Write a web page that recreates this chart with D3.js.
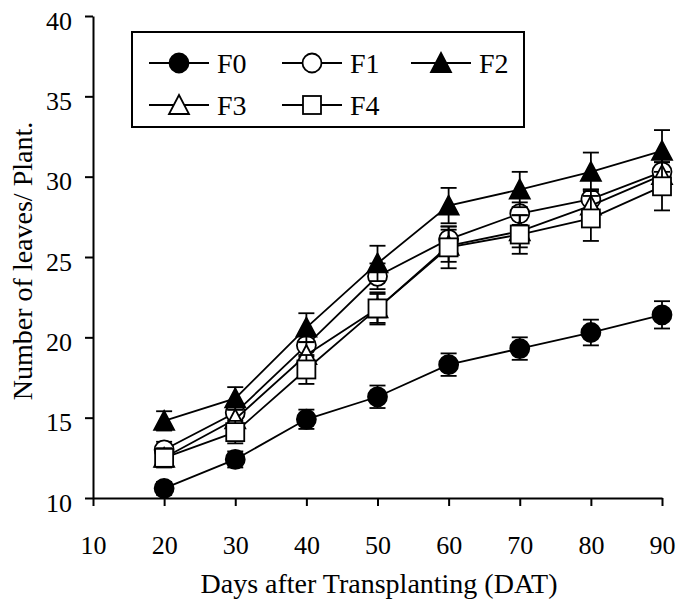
<!DOCTYPE html>
<html>
<head>
<meta charset="utf-8">
<script src="https://cdn.jsdelivr.net/npm/d3@7"></script>
<style>
  body { margin: 0; background: #fff; }
  text { font-family: "Liberation Serif", "Times New Roman", serif; fill: #000; }
</style>
</head>
<body>
<div class="canvas"></div>
<script>
// days after transplanting
const days = [20, 30, 40, 50, 60, 70, 80, 90];

const F0 = [10.6, 12.4, 14.9, 16.3, 18.3, 19.3, 20.3, 21.4];
const F0err = [0.4, 0.5, 0.6, 0.7, 0.7, 0.7, 0.8, 0.85];
const F1 = [13.0, 15.3, 19.5, 23.8, 26.1, 27.7, 28.6, 30.3];
const F1err = [0.5, 0.6, 0.7, 0.8, 0.8, 0.7, 0.6, 0.6];
const F2 = [14.8, 16.2, 20.6, 24.6, 28.2, 29.2, 30.3, 31.6];
const F2err = [0.6, 0.7, 0.9, 1.1, 1.1, 1.1, 1.2, 1.3];
const F3 = [12.5, 14.9, 18.9, 21.8, 25.7, 26.6, 28.2, 30.1];
const F3err = [0.5, 0.6, 0.8, 0.9, 1.0, 1.0, 1.0, 1.0];
const F4 = [12.5, 14.1, 18.0, 21.8, 25.6, 26.4, 27.4, 29.4];
const F4err = [0.6, 0.7, 0.9, 1.0, 1.3, 1.2, 1.4, 1.5];

const xTicks = [10, 20, 30, 40, 50, 60, 70, 80, 90];
const yTicks = [10, 15, 20, 25, 30, 35, 40];

const series = [
  { name: "F0", values: F0, err: F0err, shape: "circle", fill: "#000" },
  { name: "F1", values: F1, err: F1err, shape: "circle", fill: "#fff" },
  { name: "F2", values: F2, err: F2err, shape: "triangle", fill: "#000" },
  { name: "F3", values: F3, err: F3err, shape: "triangle", fill: "#fff" },
  { name: "F4", values: F4, err: F4err, shape: "square", fill: "#fff" }
];

const svg = d3.select('.canvas')
  .append('svg')
  .attr('width', 679)
  .attr('height', 608);

const x = d3.scaleLinear().domain([10, 90]).range([93, 662]);
const y = d3.scaleLinear().domain([10, 40]).range([498, 16]);

// axes
const xAxis = svg.append('g')
  .attr('transform', `translate(0,${y(10)})`)
  .call(d3.axisBottom(x).tickValues(xTicks).tickSize(8).tickSizeOuter(0).tickPadding(30));

const yAxis = svg.append('g')
  .attr('transform', `translate(${x(10)},0)`)
  .call(d3.axisLeft(y).tickValues(yTicks).tickSize(8).tickSizeOuter(0).tickPadding(13));

[xAxis, yAxis].forEach(a => {
  a.selectAll('path, line').attr('stroke', '#000').attr('stroke-width', 2);
  a.selectAll('text').style('font-size', '26px').style('font-family', '"Liberation Serif", serif').attr('fill', '#000');
});
yAxis.selectAll('text').attr('dy', '0.5em');

svg.append('text')
  .attr('x', 379)
  .attr('y', 593)
  .attr('text-anchor', 'middle')
  .style('font-size', '28px')
  .text('Days after Transplanting (DAT)');

svg.append('text')
  .attr('transform', 'translate(32,261) rotate(-90)')
  .attr('text-anchor', 'middle')
  .style('font-size', '28px')
  .text('Number of leaves/ Plant.');

const drawMarker = (g, shape, fill, cx, cy) => {
  if (shape === 'circle') {
    g.append('circle')
      .attr('cx', cx).attr('cy', cy).attr('r', 9.5)
      .attr('fill', fill).attr('stroke', '#000').attr('stroke-width', 1.8);
  } else if (shape === 'triangle') {
    g.append('path')
      .attr('d', `M${cx},${cy - 10}L${cx + 10},${cy + 9}L${cx - 10},${cy + 9}Z`)
      .attr('fill', fill).attr('stroke', '#000').attr('stroke-width', 1.8);
  } else {
    g.append('rect')
      .attr('x', cx - 9).attr('y', cy - 9).attr('width', 18).attr('height', 18)
      .attr('fill', fill).attr('stroke', '#000').attr('stroke-width', 1.8);
  }
};

const line = d3.line()
  .x(d => x(d[0]))
  .y(d => y(d[1]));

series.forEach(s => {
  const g = svg.append('g');
  const pts = days.map((d, i) => [d, s.values[i], s.err[i]]);

  g.append('path')
    .datum(pts)
    .attr('d', line)
    .attr('fill', 'none')
    .attr('stroke', '#000')
    .attr('stroke-width', 1.8);

  pts.forEach(p => {
    const cx = x(p[0]);
    const hi = y(p[1] + p[2]);
    const lo = y(p[1] - p[2]);
    g.append('line').attr('x1', cx).attr('x2', cx).attr('y1', hi).attr('y2', lo)
      .attr('stroke', '#000').attr('stroke-width', 1.8);
    g.append('line').attr('x1', cx - 8).attr('x2', cx + 8).attr('y1', hi).attr('y2', hi)
      .attr('stroke', '#000').attr('stroke-width', 1.8);
    g.append('line').attr('x1', cx - 8).attr('x2', cx + 8).attr('y1', lo).attr('y2', lo)
      .attr('stroke', '#000').attr('stroke-width', 1.8);
  });

  pts.forEach(p => drawMarker(g, s.shape, s.fill, x(p[0]), y(p[1])));
});

// legend
const legend = svg.append('g');
legend.append('rect')
  .attr('x', 132).attr('y', 32).attr('width', 392).attr('height', 95)
  .attr('fill', '#fff').attr('stroke', '#000').attr('stroke-width', 2);

const legendPos = [[149, 63], [282, 63], [411, 63], [149, 105], [282, 105]];

series.forEach((s, i) => {
  const [lx, ly] = legendPos[i];
  legend.append('line')
    .attr('x1', lx).attr('x2', lx + 60).attr('y1', ly).attr('y2', ly)
    .attr('stroke', '#000').attr('stroke-width', 1.8);
  drawMarker(legend, s.shape, s.fill, lx + 30, ly);
  legend.append('text')
    .attr('x', lx + 68)
    .attr('y', ly + 10)
    .style('font-size', '28px')
    .text(s.name);
});
</script>
</body>
</html>
